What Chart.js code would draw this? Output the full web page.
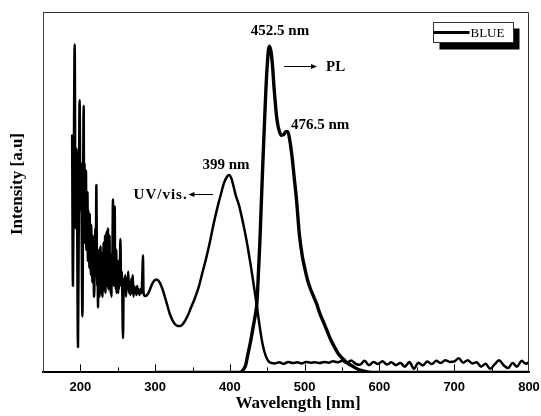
<!DOCTYPE html>
<html>
<head>
<meta charset="utf-8">
<script src="https://cdn.jsdelivr.net/npm/chart.js@4/dist/chart.umd.min.js"></script>
<style>
  html, body { margin: 0; padding: 0; background: #fff; }
  #wrap { width: 541px; height: 416px; }
</style>
</head>
<body>
<div id="wrap"><canvas id="specChart" width="541" height="416"></canvas></div>
<script>
// UV/vis absorption (thin line), intensity in a.u. scaled 0..100
// noisy deep-UV part
const uvNoiseWl = [189, 190, 191, 192.4, 193.5, 195, 196.8, 198, 199, 200, 201, 202.7, 204.4,
  205, 205.5, 206, 206.5, 207, 207.5, 208, 208.5, 209, 209.5,
  210, 210.5, 211, 211.5, 212, 212.5, 213, 213.5, 214, 214.5,
  215, 215.5, 216, 216.5, 217, 217.5, 218, 218.6, 219, 219.5,
  220, 220.5, 221.4, 222, 222.5, 223, 223.6, 224, 224.5,
  225, 225.5, 226, 226.5, 227, 227.5, 228, 228.5, 229, 229.5,
  230, 230.5, 231, 231.5, 232, 232.5, 233, 233.5, 234, 234.5,
  235, 235.5, 236, 236.5, 237, 237.5, 238, 238.5, 239, 239.5,
  240, 240.5, 241, 241.5, 242, 242.5, 243.6, 244, 244.5,
  245, 245.9, 246.5, 247, 247.5, 248, 248.5, 249, 249.5,
  250, 250.5, 251, 251.5, 252, 252.5, 253.5, 254.5, 255.5, 257,
  258, 259, 260, 261, 262, 263, 264, 265, 266, 267, 268, 269, 270, 271, 272, 273, 274, 275, 276, 277, 278, 279, 280, 281, 282, 283, 283.7, 284.5];
const uvNoiseVal = [66, 24, 50, 91, 40, 62, 7, 48, 75.5, 45, 58, 15.5, 74,
  44, 58, 36, 52, 40, 56, 34, 48, 38, 50,
  31, 45, 36, 42, 29, 44, 33, 39, 27, 41,
  30, 36, 25, 38, 28, 33, 23, 21, 36, 29,
  40, 27, 52, 33, 24, 29, 18, 31, 25,
  34, 21, 30, 24, 35, 22, 31, 26, 33, 21,
  30, 24, 36, 23, 32, 27, 38, 22, 34, 25,
  39, 24, 33, 28, 40, 23, 35, 26, 38, 24,
  31, 22, 29, 21, 33, 25, 48, 28, 33,
  24, 46, 27, 32, 23, 34, 22, 30, 24,
  29, 22, 31, 23, 28, 24, 37, 24, 28, 9.5,
  26, 22, 27, 21, 26, 23, 28, 22, 25, 21.5, 26, 22, 27, 21, 24, 22, 23.5, 21.5, 24, 22, 23, 21.5, 23, 22, 22.5, 28, 32.5, 22];

// absorption band with the 399 nm maximum
const uvBandWl = [287, 290, 293, 297, 302, 306, 310, 315, 320, 325, 330, 334, 338, 343, 348, 353, 358, 363, 368, 373,
  378, 383, 388, 392, 396, 399, 402, 405, 408, 412, 416, 420, 424, 428, 432, 436, 440, 444, 448, 452, 456];
const uvBandVal = [21.2, 21.7, 23, 25, 25.8, 25, 23, 19.5, 16, 13.8, 12.9, 12.9, 13.7, 15.5, 18, 20.5, 23.5, 27.5, 31.5, 36,
  41, 45.5, 49.5, 52.5, 54.3, 54.8, 53.8, 51.5, 49, 46.5, 43, 39, 34.5, 29.5, 24, 18.5, 12.5, 7.5, 4.5, 3, 2.6];

// flat baseline up to 800 nm
const uvTailWl = [460, 466, 472, 478, 484, 490, 496, 502, 508, 514, 520, 526, 532, 538, 544, 550, 556, 562, 568, 574,
  580, 586, 592, 598, 604, 610, 616, 622, 628, 634, 640, 646, 652, 658, 664, 670, 676, 682, 688, 694,
  700, 706, 712, 718, 724, 730, 736, 742, 748, 754, 760, 766, 772, 778, 784, 790, 796, 800];
const uvTailVal = [2.5, 2.8, 2.4, 2.9, 2.6, 2.8, 2.5, 2.9, 2.7, 2.8, 2.6, 2.9, 2.7, 3.1, 2.8, 3.2, 2.6, 3.3, 2.4, 2.1,
  3.2, 2.0, 2.9, 2.3, 3.1, 2.2, 2.8, 2.0, 2.6, 1.6, 2.9, 1.0, 2.7, 1.9, 3.0, 2.3, 3.2, 2.6, 3.4, 2.9,
  3.0, 3.9, 2.7, 3.4, 2.5, 2.8, 1.6, 2.4, 1.0, 2.2, 3.4, 2.0, 1.2, 2.6, 1.6, 3.2, 2.4, 2.8];

// photoluminescence (thick line)
const plWl = [300, 400, 413, 418, 421, 424, 428, 431, 434, 436, 438, 440, 442, 444, 446, 448, 450, 452.5, 455, 457,
  459, 461, 463, 466, 469, 472, 475, 477.5, 480, 483, 486, 489, 493, 497, 500, 504, 508, 512, 516, 520,
  525, 530, 535, 540, 545, 550, 556, 565, 572, 582, 590, 700, 800];
const plVal = [0, 0, 0, 0.8, 2, 5, 9, 12.5, 16, 19, 27, 36, 47, 58, 68, 78, 85.5, 90.5, 89, 85,
  79, 74, 70, 67, 65.8, 66, 66.8, 66.8, 64.5, 60, 54, 48, 38, 32, 29, 25.5, 23, 21, 19, 16.5,
  14, 11.5, 9, 7, 5.2, 4, 2.8, 1.6, 0.8, 0.2, 0, 0, 0];

const xMin = 150, xMax = 800;
const majorTicks = [200, 300, 400, 500, 600, 700];
const minorTicks = [250, 350, 450, 550, 650, 750];

const SERIF = '"Liberation Serif", "Times New Roman", serif';
const SANS = '"Liberation Sans", Arial, sans-serif';

const uvWl = uvNoiseWl.concat(uvBandWl, uvTailWl);
const uvVal = uvNoiseVal.concat(uvBandVal, uvTailVal);
const toPoints = (xs, ys) => xs.map((x, i) => ({x: x, y: ys[i]}));

// frame, inward ticks, text labels, arrows and the shadowed legend box
const decorPlugin = {
  id: 'decor',
  afterDatasetsDraw(chart) {
    const ctx = chart.ctx;
    const a = chart.chartArea;
    const xs = chart.scales.x;
    const ys = chart.scales.y;
    ctx.save();

    // top and right frame lines
    ctx.strokeStyle = '#333';
    ctx.lineWidth = 1;
    ctx.beginPath();
    ctx.moveTo(a.left, a.top + 0.5);
    ctx.lineTo(a.right - 0.5, a.top + 0.5);
    ctx.lineTo(a.right - 0.5, a.bottom);
    ctx.stroke();

    // ticks pointing inwards
    ctx.strokeStyle = '#000';
    ctx.lineWidth = 1;
    majorTicks.forEach(v => {
      let px = Math.round(xs.getPixelForValue(v)) + 0.5;
      ctx.beginPath();
      ctx.moveTo(px, a.bottom);
      ctx.lineTo(px, a.bottom - 8);
      ctx.stroke();
    });
    minorTicks.forEach(v => {
      let px = Math.round(xs.getPixelForValue(v)) + 0.5;
      ctx.beginPath();
      ctx.moveTo(px, a.bottom);
      ctx.lineTo(px, a.bottom - 5);
      ctx.stroke();
    });

    // peak labels
    ctx.fillStyle = '#000';
    ctx.font = 'bold 15px ' + SERIF;
    ctx.textBaseline = 'middle';
    ctx.textAlign = 'center';
    ctx.fillText('452.5 nm', xs.getPixelForValue(467), ys.getPixelForValue(94.7));
    ctx.fillText('399 nm', xs.getPixelForValue(394.8), ys.getPixelForValue(57.4));
    ctx.textAlign = 'left';
    ctx.fillText('476.5 nm', xs.getPixelForValue(481.7), ys.getPixelForValue(68.5));
    ctx.fillText('PL', xs.getPixelForValue(528.5), ys.getPixelForValue(84.7));
    ctx.textAlign = 'right';
    ctx.letterSpacing = '1px';
    ctx.fillText('UV/vis.', xs.getPixelForValue(343.5), ys.getPixelForValue(49.3));
    ctx.letterSpacing = '0px';

    // arrows
    const arrow = (x1, x2, yv) => {
      let p1 = xs.getPixelForValue(x1), p2 = xs.getPixelForValue(x2), py = Math.round(ys.getPixelForValue(yv)) + 0.5;
      let dir = p2 > p1 ? 1 : -1;
      ctx.beginPath();
      ctx.moveTo(p1, py);
      ctx.lineTo(p2 - dir * 4, py);
      ctx.stroke();
      ctx.beginPath();
      ctx.moveTo(p2, py);
      ctx.lineTo(p2 - dir * 6, py - 2.5);
      ctx.lineTo(p2 - dir * 6, py + 2.5);
      ctx.closePath();
      ctx.fill();
    };
    arrow(472.3, 516.5, 85);
    arrow(377.4, 344.5, 49.6);

    // legend box with drop shadow
    const lx = 433.5, ly = 22.5, lw = 80, lh = 20;
    ctx.fillStyle = '#000';
    ctx.fillRect(lx + 6, ly + 6, lw, lh + 1);
    ctx.fillStyle = '#fff';
    ctx.fillRect(lx, ly, lw, lh);
    ctx.strokeStyle = '#333';
    ctx.lineWidth = 1;
    ctx.strokeRect(lx, ly, lw, lh);
    ctx.strokeStyle = '#000';
    ctx.lineWidth = 3;
    ctx.beginPath();
    ctx.moveTo(lx, ly + 10);
    ctx.lineTo(lx + 36, ly + 10);
    ctx.stroke();
    ctx.fillStyle = '#000';
    ctx.font = '13px ' + SERIF;
    ctx.textAlign = 'left';
    ctx.fillText('BLUE', lx + 37, ly + 11);

    // axis titles
    ctx.font = 'bold 17px ' + SERIF;
    ctx.textAlign = 'center';
    ctx.fillText('Wavelength [nm]', 298, 404);
    ctx.translate(18, 184);
    ctx.rotate(-Math.PI / 2);
    ctx.fillText('Intensity [a.u]', 0, 0);

    ctx.restore();
  }
};

const ctx = document.getElementById('specChart').getContext('2d');
const chart = new Chart(ctx, {
  type: 'line',
  data: {
    datasets: [{
      label: 'UV/vis.',
      data: toPoints(uvWl, uvVal),
      borderColor: '#000',
      borderWidth: 2.5,
      borderJoinStyle: 'bevel',
      pointRadius: 0,
      fill: false,
      cubicInterpolationMode: 'monotone',
    }, {
      label: 'PL',
      data: toPoints(plWl, plVal),
      borderColor: '#000',
      borderWidth: 3.4,
      pointRadius: 0,
      fill: false,
      cubicInterpolationMode: 'monotone',
    }],
  },
  options: {
    responsive: false,
    animation: false,
    layout: {
      padding: {left: 43, top: 12, right: 12, bottom: 14},
    },
    scales: {
      x: {
        type: 'linear',
        min: xMin,
        max: xMax,
        grid: {display: false, drawTicks: false},
        border: {display: true, color: '#000', width: 2},
        ticks: {
          stepSize: 100,
          padding: 7,
          color: '#000',
          font: {family: SANS, weight: 'bold', size: 13},
          callback: (v) => (v % 100 === 0 && v >= 200) ? v : '',
        },
        // the 800 label may hang over the right edge like in the original
        afterFit: (scale) => {
          scale.paddingRight = 0;
          scale.paddingLeft = 0;
        },
      },
      y: {
        min: 0,
        max: 100,
        grid: {display: false, drawTicks: false},
        border: {display: true, color: '#444', width: 1},
        ticks: {display: false},
      },
    },
    plugins: {
      legend: {display: false},
      tooltip: {enabled: false},
    },
  },
  plugins: [decorPlugin],
});
</script>
</body>
</html>
